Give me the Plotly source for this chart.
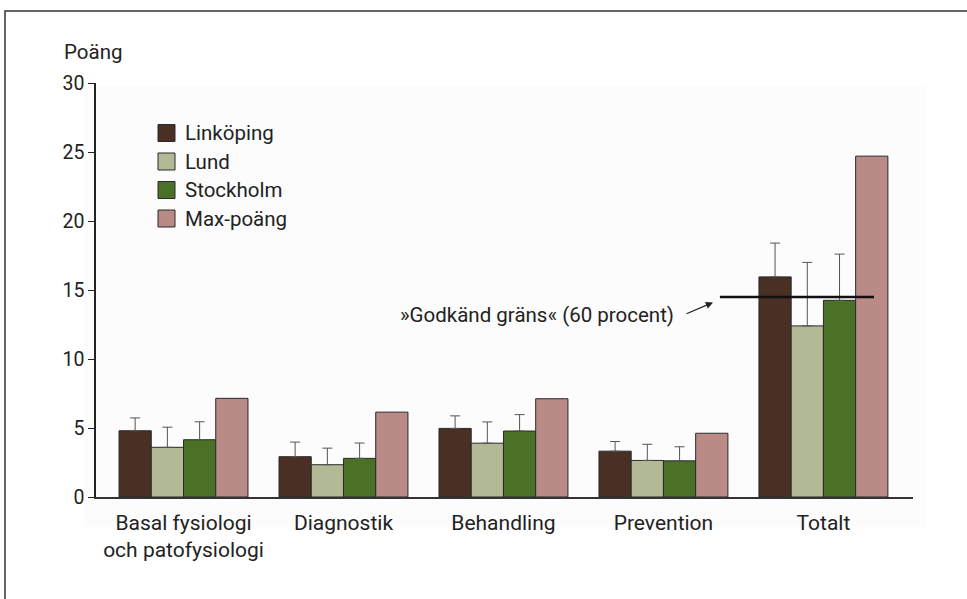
import plotly.graph_objects as go

categories = ["Basal fysiologi<br>och patofysiologi", "Diagnostik", "Behandling", "Prevention", "Totalt"]
series_names = ["Linköping", "Lund", "Stockholm", "Max-poäng"]
linkoping = [4.8, 2.92, 4.97, 3.32, 15.95]
linkoping_err = [0.93, 1.06, 0.91, 0.70, 2.45]
lund = [3.6, 2.34, 3.9, 2.65, 12.4]
lund_err = [1.46, 1.20, 1.54, 1.17, 4.6]
stockholm = [4.15, 2.8, 4.78, 2.62, 14.25]
stockholm_err = [1.3, 1.11, 1.19, 1.02, 3.35]
max_poang = [7.15, 6.15, 7.12, 4.62, 24.7]
godkand_grans = 14.5
y_ticks = [0, 5, 10, 15, 20, 25, 30]

colors = ["#4a2f25", "#b2ba95", "#4a7126", "#b98a86"]
values = [linkoping, lund, stockholm, max_poang]
errors = [linkoping_err, lund_err, stockholm_err, None]

FONT = "Roboto, Liberation Sans Narrow, sans-serif"
TXT = "#222222"

W, H = 967, 599
ML, MR, MT, MB = 96, 54, 83, 102
PW, PH = W - ML - MR, H - MT - MB


def px(x):
    return (x - ML) / PW


def py(y):
    return 1 - (y - MT) / PH


fig = go.Figure()
for name, vals, err, col in zip(series_names, values, errors, colors):
    kw = {}
    if err is not None:
        kw["error_y"] = dict(type="data", array=err, arrayminus=[0] * len(err),
                             symmetric=False, color="#555555", thickness=1, width=5)
    fig.add_trace(go.Bar(name=name, x=categories, y=vals, marker_color=col,
                         marker_line=dict(color="#2a2a2a", width=1), showlegend=False, **kw))

# very light panel behind the plot
fig.add_shape(type="rect", xref="paper", yref="paper", x0=px(84), x1=px(925), y0=py(527), y1=py(86),
              fillcolor="#fcfcfc", line=dict(width=0), layer="below")

# legend with large swatches
for i, (name, col) in enumerate(zip(series_names, colors)):
    cy = 133 + 28.5 * i
    fig.add_shape(type="rect", xref="paper", yref="paper", x0=px(158), x1=px(175),
                  y0=py(cy + 8.5), y1=py(cy - 8.5), fillcolor=col, line=dict(color="#2a2a2a", width=1))
    fig.add_annotation(xref="paper", yref="paper", x=px(183), y=py(cy), text=name, showarrow=False,
                       xanchor="left", yanchor="middle", font=dict(family=FONT, size=20.5, color=TXT))

fig.add_shape(type="line", xref="x", yref="y", x0=4 - 0.647, x1=4 + 0.316,
              y0=godkand_grans, y1=godkand_grans, line=dict(color="#111111", width=2.5))

fig.add_annotation(xref="x", yref="y", x=3.08, y=13.2, text="»Godkänd gräns« (60 procent)",
                   showarrow=False, xanchor="right", yanchor="middle",
                   font=dict(family=FONT, size=20.5, color=TXT))
fig.add_annotation(xref="x", yref="y", x=3.31, y=14.1, text="", showarrow=True,
                   ax=-28, ay=12, arrowhead=2, arrowsize=1.2, arrowwidth=1.2, arrowcolor=TXT)

fig.add_annotation(xref="paper", yref="paper", x=px(62), y=py(52), text="Poäng",
                   showarrow=False, xanchor="left", yanchor="middle",
                   font=dict(family=FONT, size=20.5, color=TXT))

# outer frame
fig.add_shape(type="rect", xref="paper", yref="paper", x0=px(5), x1=px(1100), y0=py(800), y1=py(11),
              line=dict(color="#333333", width=1.5))

fig.update_layout(
    width=W, height=H,
    margin=dict(l=ML, r=MR, t=MT, b=MB),
    paper_bgcolor="white", plot_bgcolor="rgba(0,0,0,0)",
    barmode="group", bargap=0.194, bargroupgap=0,
    font=dict(family=FONT, size=20, color=TXT),
    showlegend=False,
)
fig.update_xaxes(range=[-0.547, 4.56], showline=True, linecolor="#333333", linewidth=1.5,
                 ticks="", showgrid=False, tickfont=dict(family=FONT, size=21, color=TXT),
                 ticklabelstandoff=6)
fig.update_yaxes(range=[0, 30], tickvals=y_ticks, showline=True, linecolor="#222222", linewidth=1.5,
                 ticks="outside", ticklen=6, tickcolor="#222222", showgrid=False, zeroline=False,
                 tickfont=dict(family=FONT, size=19.5, color=TXT))

fig.write_html("out.html", config={"displayModeBar": False},
               post_script="document.body.style.margin='0';document.body.style.overflow='hidden';")
